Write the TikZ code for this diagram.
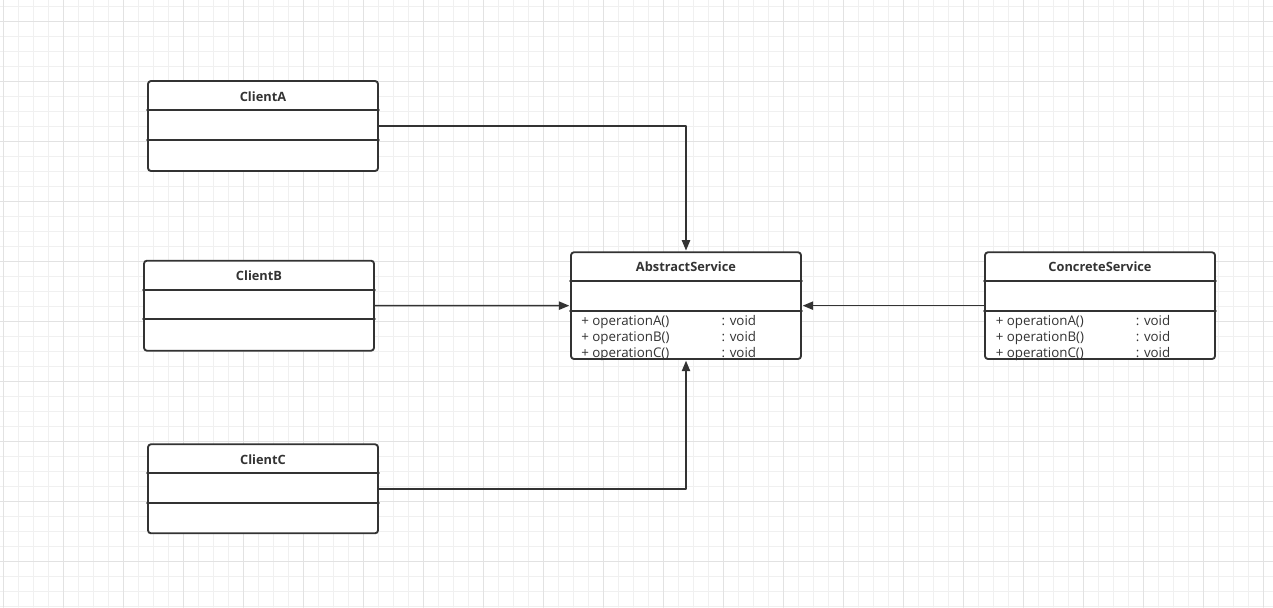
\documentclass[tikz,border=0pt]{standalone}
\usepackage{fontspec}
\setmainfont{Open Sans}
\usetikzlibrary{arrows.meta,calc,positioning,fit}
\definecolor{umlink}{RGB}{51,51,51}
\definecolor{gridminor}{RGB}{240,240,240}
\definecolor{gridmajor}{RGB}{226,226,226}

\begin{document}
\begin{tikzpicture}[>=Triangle,line cap=round,line join=round,
 x=0.75pt,y=-0.75pt,
 classbox/.style={draw=umlink,line width=1.4pt,rounded corners=2.2pt,
  fill=white,inner sep=0pt},
 classline/.style={draw=umlink,line width=1.4pt},
 classtitle/.style={font=\bfseries\fontsize{9.6}{11}\selectfont,
  text=umlink,anchor=base,inner sep=0pt},
 oprow/.style={font=\fontsize{10}{12}\selectfont,text=umlink,
  anchor=base west,inner sep=0pt},
 assoc/.style={draw=umlink,line width=1.1pt,shorten >=0.6pt,
  -{Triangle[length=7.8pt,width=6.2pt]}}]
 \useasboundingbox (0,0) rectangle (1273,607);
 \fill[white] (0,0) rectangle (1273,607);
 % grid
 \foreach \gx in {3.3,18.3,...,1273}
  \draw[gridminor,line width=0.75pt] (\gx,0) -- (\gx,607);
 \foreach \gy in {6.7,21.7,...,607}
  \draw[gridminor,line width=0.75pt] (0,\gy) -- (1273,\gy);
 \foreach \gx in {3.3,63.3,...,1273}
  \draw[gridmajor,line width=0.75pt] (\gx,0) -- (\gx,607);
 \foreach \gy in {21.7,81.7,...,607}
  \draw[gridmajor,line width=0.75pt] (0,\gy) -- (1273,\gy);
 % classes
 \node[classbox,fit={(148,81) (378,171)}] (clientA) {};
 \node[classbox,fit={(144,260.7) (374,350.7)}] (clientB) {};
 \node[classbox,fit={(148,444.3) (378,533.3)}] (clientC) {};
 \node[classbox,fit={(571,252.3) (801,359)}] (abstract) {};
 \node[classbox,fit={(985,252.3) (1215,359)}] (concrete) {};
 \foreach \c in {clientA,clientB,clientC,abstract,concrete}
  \foreach \d in {30,59.5}
   \draw[classline] ($(\c.north west)+(0,\d)$) -- ($(\c.north east)+(0,\d)$);
 \node[classtitle] (clientAname) at ($(clientA.north)+(0,21)$) {ClientA};
 \node[classtitle] (clientBname) at ($(clientB.north)+(0,21)$) {ClientB};
 \node[classtitle] (clientCname) at ($(clientC.north)+(0,21)$) {ClientC};
 \node[classtitle] (abstractname) at ($(abstract.north)+(0,20.5)$)
  {AbstractService};
 \node[classtitle] (concretename) at ($(concrete.north)+(0,20.5)$)
  {ConcreteService};
 \foreach \op [count=\i] in {A,B,C} {
  \node[oprow] (abstractop\op) at ($(abstract.north west)+(11,57.7+16*\i)$)
   {+ operation\op()};
  \node[oprow] (abstractret\op) at ($(abstract.north west)+(151.3,57.7+16*\i)$)
   {: void};
  \node[oprow] (concreteop\op) at ($(concrete.north west)+(11.5,57.7+16*\i)$)
   {+ operation\op()};
  \node[oprow] (concreteret\op) at ($(concrete.north west)+(151.5,57.7+16*\i)$)
   {: void};
 }
 % associations
 \draw[assoc] (clientA.east) -| (abstract.north);
 \draw[assoc] (clientB.east) -- (abstract.west);
 \draw[assoc] (clientC.east) -| (abstract.south);
 \draw[assoc] (concrete.west) -- (abstract.east);
\end{tikzpicture}
\end{document}
